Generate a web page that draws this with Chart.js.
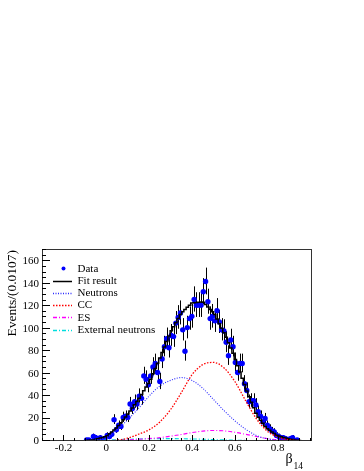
<!DOCTYPE html>
<html><head><meta charset="utf-8">
<script src="https://cdn.jsdelivr.net/npm/chart.js@4/dist/chart.umd.min.js"></script>
<style>html,body{margin:0;padding:0;background:#fff;}#wrap{position:relative;width:364px;height:471px;}</style>
</head><body><div id="wrap"><canvas id="c" width="364" height="471"></canvas></div>
<script>
// ---- data ----
const binWidth = 0.010678;
const firstBinCenter = -0.1025;
const dataCounts = [0,1,1,0,4,3,2,3,1,2, 5,4,6,19,10,14,13,21,22,21, 33,29,35,33,40,38,58,55,50,58, 66,69,61,53,73,84,91,83,94,93, 105,110,114,99,80,101,109,111,126,121, 121,121,133,142,124,109,111,107,116,106, 99,98,88,76,90,84,70,61,69,69, 51,45,35,36,36,32,26,22,17,20, 14,11,9,8,5,4,3,3,2,1, 2,3,0,1];
const fitValues = [0.2,0.4,0.7,0.9,1.2,1.6,2.1,2.6,3.2,3.8, 4.7,6.4,8.1,9.8,11.5,13.8,16.3,18.9,21.4,24.0, 26.8,29.5,32.3,35.1,38.1,41.4,44.7,48.0,51.3,55.1, 59.8,64.5,69.2,74.0,78.8,83.8,88.7,93.6,98.1,101.7, 105.4,109.0,112.7,115.2,117.2,119.1,121.0,122.9,123.2,123.4, 123.6,123.8,123.6,121.5,119.3,117.2,115.1,112.6,108.6,104.5, 100.5,96.4,92.4,87.6,82.9,78.2,72.5,67.0,61.4,55.9, 50.3,44.6,39.5,34.6,29.7,24.8,21.2,18.5,15.7,12.9, 10.9,9.5,8.0,6.6,5.1,4.4,3.8,3.2,2.7,2.1, 1.6,1.3,1.0,0.7,0.5,0.3,0.2,0.1,0.1,0.05];
const compX = [-0.1,-0.05,0,0.05,0.1,0.15,0.2,0.25,0.3,0.35,0.4,0.45,0.5,0.55,0.6,0.65,0.7,0.75,0.8,0.85,0.9,0.95];
const neutrons = [0.2,1,3,10,19,29,40,49,54,56.5,54,47,37,27,18,10.5,5,2,0.8,0.3,0.1,0];
const cc = [0,0,0.2,0.6,2.5,6,10,17,28,43,59,68,70,65,53,36,20,9,3.5,1.2,0.3,0.1];
const es = [0,0.1,0.3,0.6,1,1.5,2.2,3,4.3,5.8,7.5,8.8,9.4,9,7.8,6,4,2.2,1,0.4,0.1,0];
const extNeutrons = [0.1,0.4,0.8,1.2,1.5,1.8,2,2.1,2.1,2,1.8,1.6,1.3,1,0.8,0.5,0.3,0.2,0.1,0.05,0,0];
const xTickValues = [-0.2,0,0.2,0.4,0.6,0.8];
const xTickLabels = ['-0.2','0','0.2','0.4','0.6','0.8'];
const yTickValues = [0,20,40,60,80,100,120,140,160];
const legendLabels = ['Data','Fit result','Neutrons','CC','ES','External neutrons'];
const yTitle = 'Events/(0.0107)';

// ---- build library tables ----
const centerOf = i => firstBinCenter + i * binWidth;
const dataPts = dataCounts.map((v, i) => ({x: centerOf(i), y: v > 0 ? v : null}));
const fitPts = fitValues.map((v, i) => ({x: centerOf(i), y: v}));
const curve = arr => arr.map((v, i) => ({x: compX[i], y: v}));

const FONT = "'Liberation Serif', 'Times New Roman', serif";

const rootPlugin = {
  id: 'rootStyle',
  beforeDatasetDraw(chart, args) {
    if (args.index !== 5) return;
    const ctx = chart.ctx, xs = chart.scales.x, ys = chart.scales.y;
    ctx.save();
    ctx.strokeStyle = '#000';
    ctx.lineWidth = 1;
    dataCounts.forEach((n, i) => {
      if (n <= 0) return;
      const s = Math.sqrt(n + 0.25);
      const lo = n - (s - 0.5), hi = n + s + 0.5;
      const px = Math.round(xs.getPixelForValue(centerOf(i))) + 0.5;
      ctx.beginPath();
      ctx.moveTo(px, ys.getPixelForValue(lo));
      ctx.lineTo(px, ys.getPixelForValue(hi));
      ctx.stroke();
    });
    ctx.restore();
  },
  afterDraw(chart) {
    const ctx = chart.ctx, xs = chart.scales.x, ys = chart.scales.y;
    const a = chart.chartArea;
    ctx.save();
    // frame
    ctx.strokeStyle = '#333';
    ctx.lineWidth = 1;
    ctx.strokeRect(Math.round(a.left) + 0.5, Math.round(a.top) + 0.5, Math.round(a.right - a.left) - 1, Math.round(a.bottom - a.top) - 1);
    ctx.strokeStyle = '#000';
    // x ticks (inside)
    for (let k = -6; k <= 19; k++) {
      const v = k * 0.05;
      const major = (k % 4 === 0);
      const px = Math.round(xs.getPixelForValue(v)) + 0.5;
      const len = major ? 6 : 3;
      ctx.beginPath();
      ctx.moveTo(px, a.bottom);
      ctx.lineTo(px, a.bottom - len);
      ctx.stroke();
    }
    // y ticks (inside)
    for (let v = 0; v <= 170; v += 5) {
      const major = (v % 20 === 0);
      const py = Math.round(ys.getPixelForValue(v)) - 0.5;
      const len = major ? 8 : 4;
      ctx.beginPath();
      ctx.moveTo(a.left, py);
      ctx.lineTo(a.left + len, py);
      ctx.stroke();
    }
    // y title
    ctx.fillStyle = '#000';
    ctx.font = '13.5px ' + FONT;
    ctx.translate(12.5, a.top + 1);
    ctx.rotate(-Math.PI / 2);
    ctx.textAlign = 'right';
    ctx.textBaseline = 'middle';
    ctx.fillText(yTitle, 0, 0);
    ctx.setTransform(1, 0, 0, 1, 0, 0);
    // x title
    ctx.textAlign = 'left';
    ctx.textBaseline = 'alphabetic';
    ctx.font = '14px ' + FONT;
    ctx.fillText('\u03B2', 285.5, 463);
    ctx.font = '9.5px ' + FONT;
    ctx.fillText('14', 293.5, 469);
    // legend
    ctx.font = '11px ' + FONT;
    ctx.textBaseline = 'middle';
    const ds = chart.data.datasets;
    const order = [5, 4, 0, 1, 2, 3];
    order.forEach((di, row) => {
      const y = 268.5 + row * 12.2;
      const d = ds[di];
      ctx.save();
      if (di === 5) {
        ctx.fillStyle = '#0000ff';
        ctx.beginPath();
        ctx.arc(63.5, y, 2, 0, Math.PI * 2);
        ctx.fill();
      } else {
        ctx.strokeStyle = d.borderColor;
        ctx.lineWidth = di === 4 ? 1.5 : 1.3;
        ctx.setLineDash(d.borderDash || []);
        ctx.beginPath();
        ctx.moveTo(53, Math.round(y) + 0.5);
        ctx.lineTo(72, Math.round(y) + 0.5);
        ctx.stroke();
      }
      ctx.restore();
      ctx.fillStyle = '#000';
      ctx.fillText(legendLabels[row], 77.5, y + 0.5);
    });
    ctx.restore();
  }
};

new Chart(document.getElementById('c'), {
  type: 'line',
  data: {
    datasets: [
      {label: 'Neutrons', data: curve(neutrons), borderColor: '#2a2aff', borderWidth: 1.1, borderDash: [1, 1.5], pointRadius: 0, cubicInterpolationMode: 'monotone', fill: false},
      {label: 'CC', data: curve(cc), borderColor: '#ff0000', borderWidth: 1.3, borderDash: [1.5, 1.5], pointRadius: 0, cubicInterpolationMode: 'monotone', fill: false},
      {label: 'ES', data: curve(es), borderColor: '#ff00ff', borderWidth: 1.1, borderDash: [4, 2, 1, 2], pointRadius: 0, cubicInterpolationMode: 'monotone', fill: false},
      {label: 'External neutrons', data: curve(extNeutrons), borderColor: '#00dddd', borderWidth: 1.1, borderDash: [4, 2, 1, 2], pointRadius: 0, cubicInterpolationMode: 'monotone', fill: false},
      {label: 'Fit result', data: fitPts, borderColor: '#000000', borderWidth: 1.5, stepped: 'middle', pointRadius: 0, fill: false},
      {label: 'Data', data: dataPts, showLine: false, pointRadius: 2.7, pointBackgroundColor: '#0000ff', pointBorderColor: '#0000ff', backgroundColor: '#0000ff', borderColor: '#0000ff', pointBorderWidth: 0}
    ]
  },
  options: {
    responsive: false,
    animation: false,
    devicePixelRatio: 1,
    layout: {padding: {top: 249, right: 52, left: 0, bottom: 0}},
    plugins: {legend: {display: false}, tooltip: {enabled: false}},
    scales: {
      x: {
        type: 'linear', min: -0.3, max: 0.96,
        grid: {display: false, drawTicks: false},
        border: {display: false},
        afterBuildTicks: s => { s.ticks = xTickValues.map(v => ({value: v})); },
        afterFit: s => { s.height = 30; },
        ticks: {
          autoSkip: false, maxRotation: 0, padding: 1, color: '#000',
          font: {family: FONT, size: 11},
          callback: (v) => { const i = xTickValues.findIndex(t => Math.abs(t - v) < 1e-9); return i >= 0 ? xTickLabels[i] : ''; }
        }
      },
      y: {
        type: 'linear', min: 0, max: 171,
        grid: {display: false, drawTicks: false},
        border: {display: false},
        afterBuildTicks: s => { s.ticks = yTickValues.map(v => ({value: v})); },
        afterFit: s => { s.width = 42; },
        ticks: {padding: 3, color: '#000', font: {family: FONT, size: 11}}
      }
    }
  },
  plugins: [rootPlugin]
});
</script>
</body></html>
